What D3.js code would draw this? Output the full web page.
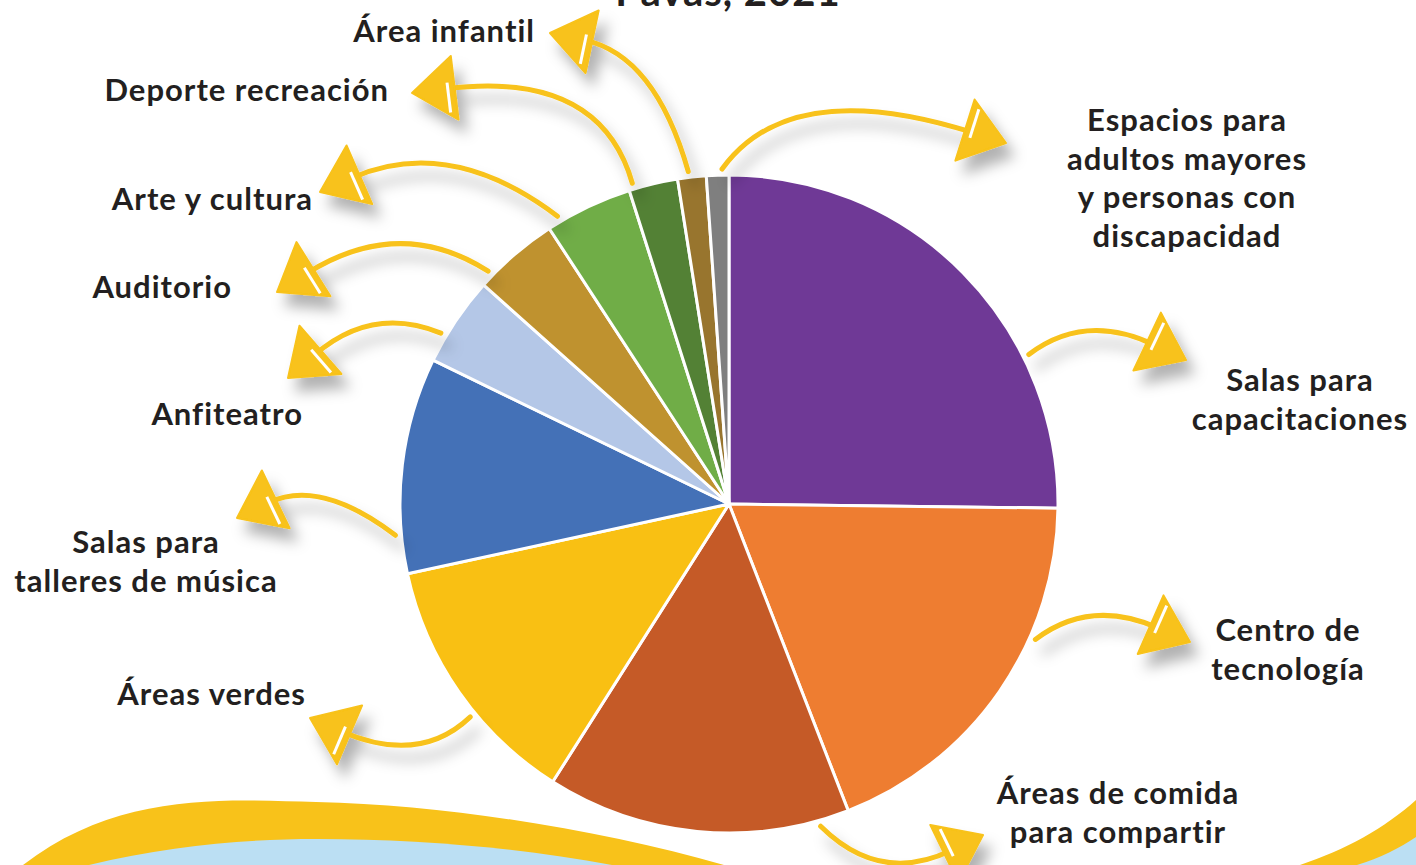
<!DOCTYPE html>
<html lang="es">
<head>
<meta charset="utf-8">
<script src="https://d3js.org/d3.v7.min.js"></script>
<style>
  body { margin: 0; background: #fff; }
  svg { display: block; }
  .lbl { font-family: Lato, "Open Sans", sans-serif; font-weight: 700; font-size: 31px; letter-spacing: 1px; fill: #231f20; }
</style>
</head>
<body>
<svg width="1416" height="865"></svg>
<script>
// categories in pie order, clockwise from 12 o'clock
var categories = [
  "Salas para capacitaciones", "Centro de tecnología", "Áreas de comida para compartir",
  "Áreas verdes", "Salas para talleres de música", "Anfiteatro", "Auditorio",
  "Arte y cultura", "Deporte recreación", "Área infantil",
  "Espacios para adultos mayores y personas con discapacidad"
];
var values = [25.2, 18.9, 14.9, 12.6, 10.6, 4.4, 4.2, 4.3, 2.4, 1.4, 1.1];
var colors = ["#6f3996", "#ee7d31", "#c55a27", "#f9c013", "#4471b7", "#b4c7e7",
  "#bf922f", "#70ad47", "#538135", "#98752e", "#7f7f7f"];
// label lines as printed
var labelLines = [
  ["Salas para", "capacitaciones"], ["Centro de", "tecnología"],
  ["Áreas de comida", "para compartir"], ["Áreas verdes"],
  ["Salas para", "talleres de música"], ["Anfiteatro"], ["Auditorio"],
  ["Arte y cultura"], ["Deporte recreación"], ["Área infantil"],
  ["Espacios para", "adultos mayores", "y personas con", "discapacidad"]
];

var svg = d3.select("svg");
var cx = 729, cy = 504, r = 329;

var defs = svg.append("defs");
var f = defs.append("filter").attr("id", "sh").attr("x", "-50%").attr("y", "-50%")
  .attr("width", "200%").attr("height", "200%");
f.append("feDropShadow").attr("dx", 8).attr("dy", 13).attr("stdDeviation", 7)
  .attr("flood-color", "#000").attr("flood-opacity", 0.3);

// background decoration at the bottom
svg.append("path")
  .attr("d", "M23,865 C120,790 230,800 316,802 C450,805 600,830 724,865 Z")
  .attr("fill", "#f8c21a");
svg.append("path")
  .attr("d", "M89,865 C170,845 250,839 316,839 C420,839 520,848 612,865 Z")
  .attr("fill", "#bbdff3");
svg.append("path")
  .attr("d", "M1300,865 C1345,850 1385,828 1416,800 L1416,865 Z")
  .attr("fill", "#f8c21a");
svg.append("path")
  .attr("d", "M1357,865 C1380,858 1400,848 1416,837 L1416,865 Z")
  .attr("fill", "#bbdff3");

// title, cut by the top edge
svg.append("text").attr("class", "lbl").attr("x", 728).attr("y", 6)
  .attr("text-anchor", "middle").style("font-size", "40px").text("Pavas, 2021");

var pie = d3.pie().sort(null).value(function (d) { return d; });
var arcs = pie(values);
var arc = d3.arc().innerRadius(0).outerRadius(r);

var g = svg.append("g").attr("transform", "translate(" + cx + "," + cy + ")");
g.selectAll("path.slice")
  .data(arcs)
  .enter()
  .append("path")
  .attr("class", "slice")
  .attr("d", arc)
  .attr("fill", function (d, i) { return colors[i]; })
  .attr("stroke", "#fff")
  .attr("stroke-width", 3)
  .attr("stroke-linejoin", "round");

// arrow layout: where in the slice it starts, control point, tip
var arrows = [
  { a: 0.7, c: [1085, 312], t: [1186, 360] },
  { a: 0.34, c: [1090, 598], t: [1190, 642] },
  { a: 0.1, c: [880, 885], t: [983, 835] },
  { a: 0.4, c: [420, 765], t: [310, 718] },
  { a: 0.18, c: [320, 478], t: [237, 518] },
  { a: 0.3, c: [372, 305], t: [288, 378] },
  { a: 0.15, c: [400, 215], t: [277, 292] },
  { a: 0.15, c: [450, 135], t: [320, 192] },
  { a: 0.1, c: [600, 70], t: [412, 93] },
  { a: 0.4, c: [655, 55], t: [550, 33] },
  { a: 0.7, c: [790, 75], t: [1006, 143] }
];

var ag = svg.append("g").attr("filter", "url(#sh)");
var sg = svg.append("g");
arrows.forEach(function (o, i) {
  var d = arcs[i];
  var ang = d.startAngle + (d.endAngle - d.startAngle) * o.a;
  var sr = r + 6;
  var s = [cx + Math.sin(ang) * sr, cy - Math.cos(ang) * sr];
  var hl = 43, hw = 32;
  // head direction follows the curve's end tangent
  var dx = o.t[0] - o.c[0], dy = o.t[1] - o.c[1];
  var len = Math.sqrt(dx * dx + dy * dy);
  var ux = dx / len, uy = dy / len;
  var b = [o.t[0] - ux * hl, o.t[1] - uy * hl];
  ag.append("path")
    .attr("d", "M" + s[0] + "," + s[1] + " Q" + o.c[0] + "," + o.c[1] + " " + (b[0] + ux * 8) + "," + (b[1] + uy * 8))
    .attr("fill", "none").attr("stroke", "#f8c21a").attr("stroke-width", 5)
    .attr("stroke-linecap", "round");
  var p1 = [b[0] - uy * hw, b[1] + ux * hw], p2 = [b[0] + uy * hw, b[1] - ux * hw];
  ag.append("path")
    .attr("d", "M" + o.t[0] + "," + o.t[1] + " L" + p1[0] + "," + p1[1] + " L" + p2[0] + "," + p2[1] + " Z")
    .attr("fill", "#f8c21a").attr("stroke", "#f8c21a").attr("stroke-width", 2)
    .attr("stroke-linejoin", "round");
  // white slit near the back of the head
  var q = [b[0] + ux * 7, b[1] + uy * 7];
  sg.append("line")
    .attr("x1", q[0] + uy * 24).attr("y1", q[1] - ux * 24)
    .attr("x2", q[0] - uy * 6).attr("y2", q[1] + ux * 6)
    .attr("stroke", "#fff").attr("stroke-width", 3);
});

// labels: anchor, x, first baseline
var labelPos = [
  ["middle", 1300, 391], ["middle", 1288, 641], ["middle", 1118, 804],
  ["end", 306, 705], ["middle", 146, 553], ["end", 303, 425], ["end", 232, 298],
  ["end", 313, 210], ["end", 389, 101], ["end", 535, 42], ["middle", 1187, 131]
];
labelLines.forEach(function (lines, i) {
  var p = labelPos[i];
  var t = svg.append("text").attr("class", "lbl")
    .attr("text-anchor", p[0]).attr("x", p[1]).attr("y", p[2]);
  lines.forEach(function (ln, k) {
    t.append("tspan").attr("x", p[1]).attr("dy", k === 0 ? 0 : 38.5).text(ln);
  });
});
</script>
</body>
</html>
